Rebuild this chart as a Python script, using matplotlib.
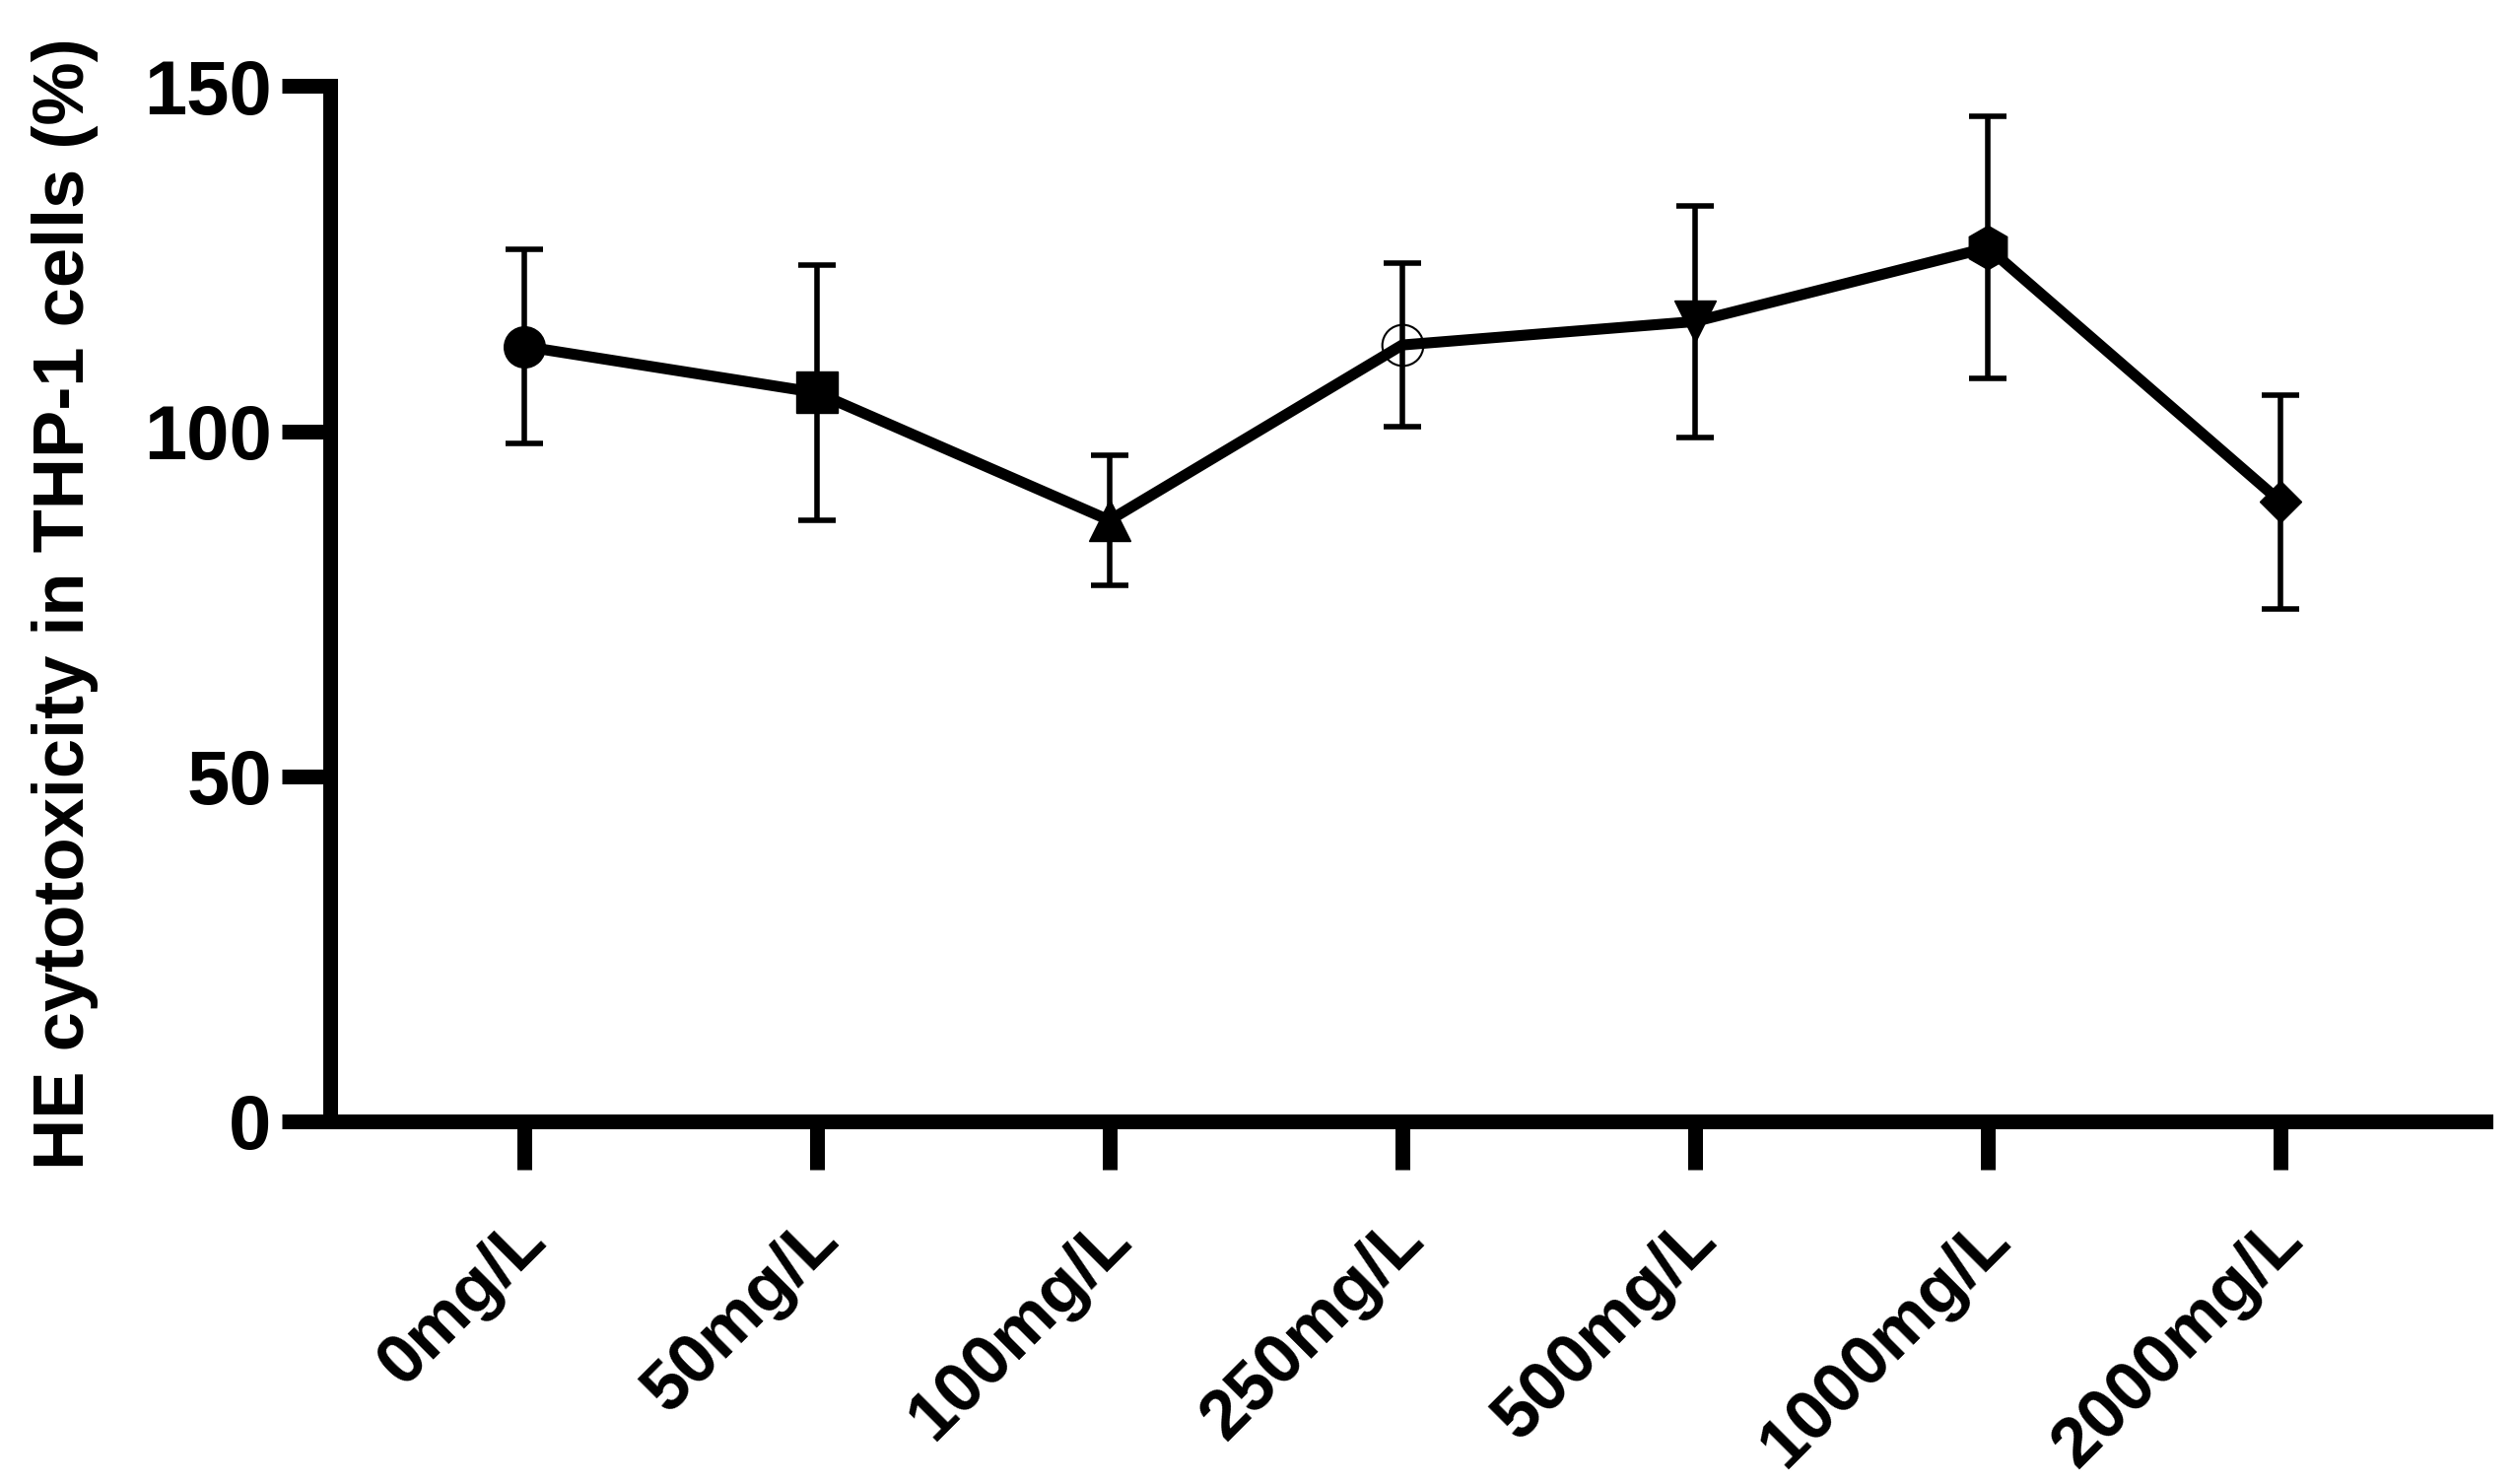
import matplotlib
matplotlib.use("Agg")
import matplotlib.pyplot as plt
import matplotlib.transforms as mtransforms
import numpy as np

# dose groups and read-off values (mean, SD)
doses = ["0mg/L", "50mg/L", "100mg/L", "250mg/L", "500mg/L", "1000mg/L", "2000mg/L"]
means = [112.3, 105.6, 87.1, 112.5, 115.9, 126.6, 89.8]
sds = [14.1, 18.5, 9.4, 11.9, 16.8, 19.0, 15.5]
markers = ["o", "s", "^", "o", "v", "h", "D"]
filled = [True, True, True, False, True, True, True]
msizes = [30, 30, 30, 30, 30, 32, 21]

plt.rcParams["font.family"] = ["Liberation Sans", "DejaVu Sans"]
plt.rcParams["font.weight"] = "bold"

fig = plt.figure(figsize=(25.53, 15.06), dpi=100)
ax = fig.add_axes([0.1314, 0.2444, 0.9879 - 0.1314, 0.9419 - 0.2444])

x = np.arange(len(doses))

# error bars
ax.errorbar(x, means, yerr=sds, fmt="none", ecolor="black", elinewidth=4,
            capsize=14, capthick=4, zorder=2)
# connecting line
ax.plot(x, means, color="black", lw=8, zorder=3, solid_capstyle="round")
# one symbol per group
for xi, m, mk, f, s in zip(x, means, markers, filled, msizes):
    if f:
        ax.plot([xi], [m], marker=mk, ms=s, color="black", mec="black",
                ls="none", zorder=4)
    else:
        ax.plot([xi], [m], marker=mk, ms=s, mfc="none", mec="black",
                mew=1.5, ls="none", zorder=4)

ax.set_xlim(-0.66, 6.70)
ax.set_ylim(0, 150)
ax.set_yticks([0, 50, 100, 150])
ax.set_xticks(x)
ax.set_xticklabels(doses, rotation=45, ha="right", va="center",
                   rotation_mode="anchor", fontsize=51, fontweight="bold")
ax.tick_params(axis="y", labelsize=56, length=35, width=10.8, pad=8)
ax.tick_params(axis="x", length=35, width=10.8, pad=44)

# nudge the slanted labels a little to the right
shift = mtransforms.ScaledTranslation(0.12, 0, fig.dpi_scale_trans)
for lab in ax.get_xticklabels():
    lab.set_transform(lab.get_transform() + shift)

for side in ["top", "right"]:
    ax.spines[side].set_visible(False)
for side in ["left", "bottom"]:
    ax.spines[side].set_linewidth(10.8)
    ax.spines[side].set_capstyle("projecting")

ax.set_ylabel("HE cytotoxicity in THP-1 cells (%)", fontsize=52, fontweight="bold")
ax.yaxis.set_label_coords(-0.1077, 0.5)

fig.savefig("out.png", dpi=100)
